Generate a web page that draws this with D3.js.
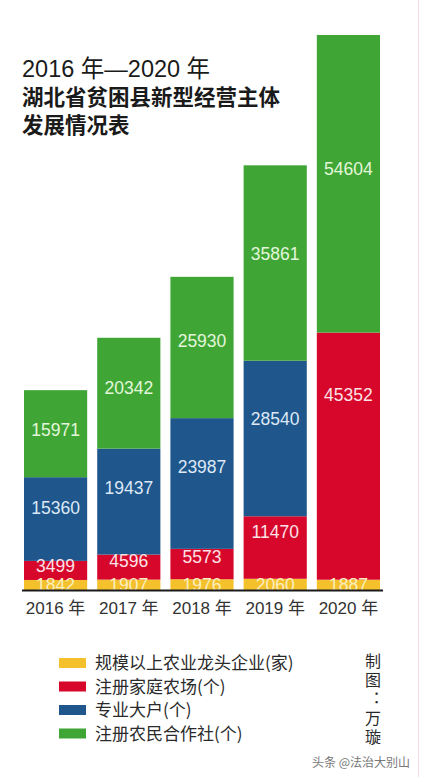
<!DOCTYPE html>
<html>
<head>
<meta charset="utf-8">
<script src="https://cdn.jsdelivr.net/npm/d3@7"></script>
<style>
  html, body { margin: 0; padding: 0; background: #fff; }
  svg { display: block; font-family: "Liberation Sans", "Noto Sans CJK SC", sans-serif; }
</style>
</head>
<body>
<svg id="chart" width="421" height="777"></svg>
<script>
// data
var years = ["2016 年", "2017 年", "2018 年", "2019 年", "2020 年"];
var seriesNames = ["规模以上农业龙头企业(家)", "注册家庭农场(个)", "专业大户(个)", "注册农民合作社(个)"];
var leading = [1842, 1907, 1976, 2060, 1887];
var familyFarms = [3499, 4596, 5573, 11470, 45352];
var bigHouseholds = [15360, 19437, 23987, 28540, 0];
var cooperatives = [15971, 20342, 25930, 35861, 54604];
var titleLines = ["2016 年—2020 年", "湖北省贫困县新型经营主体", "发展情况表"];

var colors = ["#f4c02c", "#d6072b", "#1f568c", "#3fa636"];
var labelColors = ["#fbefc0", "#fde2e6", "#dde9f6", "#e4f6da"];
// where the value label sits inside its segment (0 = top, 1 = bottom)
var labelFrac = [0.5, 0.25, 0.37, 0.45];

var svg = d3.select("#chart");

// title
svg.append("g").selectAll("text")
    .data(titleLines)
    .enter().append("text")
    .attr("x", 22)
    .attr("y", function (d, i) { return 77 + i * 28; })
    .attr("font-family", "'Liberation Sans', 'Noto Sans CJK SC', sans-serif")
    .attr("font-size", function (d, i) { return i === 0 ? 23.5 : 21.5; })
    .attr("font-weight", function (d, i) { return i === 0 ? 400 : 700; })
    .attr("fill", "#1a1a1a")
    .text(function (d) { return d; });

var rows = years.map(function (y, i) {
    return { year: y, s0: leading[i], s1: familyFarms[i], s2: bigHouseholds[i], s3: cooperatives[i] };
});
var keys = ["s0", "s1", "s2", "s3"];
var stacked = d3.stack().keys(keys)(rows);

var x = d3.scaleBand()
    .domain(years)
    .range([24, 380])
    .paddingInner(0.137)
    .paddingOuter(0);

var maxTotal = d3.max(rows, function (r) { return r.s0 + r.s1 + r.s2 + r.s3; });
var y = d3.scaleLinear()
    .domain([0, maxTotal])
    .range([590, 35]);

var layers = svg.append("g").selectAll("g")
    .data(stacked)
    .enter().append("g")
    .attr("fill", function (d, i) { return colors[i]; });

layers.selectAll("rect")
    .data(function (d) { return d.filter(function (p) { return p[1] > p[0]; }); })
    .enter().append("rect")
    .attr("x", function (d) { return x(d.data.year); })
    .attr("y", function (d) { return y(d[1]); })
    .attr("width", x.bandwidth())
    .attr("height", function (d) { return y(d[0]) - y(d[1]); });

// value labels
stacked.forEach(function (layer, li) {
    svg.append("g").selectAll("text")
        .data(layer.filter(function (p) { return p[1] > p[0]; }))
        .enter().append("text")
        .attr("x", function (d) { return x(d.data.year) + x.bandwidth() / 2; })
        .attr("y", function (d) {
            var top = y(d[1]), h = y(d[0]) - y(d[1]);
            return top + h * labelFrac[li];
        })
        .attr("dy", "0.36em")
        .attr("text-anchor", "middle")
        .attr("font-size", 17.5)
        .attr("fill", labelColors[li])
        .text(function (d) { return d[1] - d[0]; });
});

// baseline
svg.append("line")
    .attr("x1", 22).attr("x2", 383)
    .attr("y1", 590.5).attr("y2", 590.5)
    .attr("stroke", "#1a1a1a")
    .attr("stroke-width", 2);

// x axis labels
var xAxis = d3.axisBottom(x).tickSize(0).tickPadding(10);
var ax = svg.append("g").attr("transform", "translate(0,592)").call(xAxis);
ax.select(".domain").remove();
ax.selectAll("text")
    .attr("font-size", 17)
    .attr("font-family", "'Liberation Sans', 'Noto Sans CJK SC', sans-serif")
    .attr("fill", "#333");

// legend
var legend = svg.append("g").selectAll("g")
    .data(seriesNames)
    .enter().append("g")
    .attr("transform", function (d, i) { return "translate(59," + (663 + i * 23.5) + ")"; });
legend.append("rect")
    .attr("x", 0).attr("y", -5)
    .attr("width", 27).attr("height", 10)
    .attr("fill", function (d, i) { return colors[i]; });
legend.append("text")
    .attr("x", 36)
    .attr("dy", "0.36em")
    .attr("font-size", 17)
    .attr("font-family", "'Noto Sans CJK SC', sans-serif")
    .attr("fill", "#2a2a2a")
    .text(function (d) { return d; });

// credit, written top to bottom as one vertical text
svg.append("text")
    .attr("x", 373)
    .attr("y", 653)
    .style("writing-mode", "vertical-rl")
    .attr("letter-spacing", 3)
    .attr("font-size", 16)
    .attr("font-family", "'Noto Sans CJK SC', sans-serif")
    .attr("fill", "#2a2a2a")
    .text("制图：万璇");

svg.append("text")
    .attr("x", 410)
    .attr("y", 763)
    .attr("dy", "0.36em")
    .attr("text-anchor", "end")
    .attr("font-size", 12)
    .attr("font-family", "'Noto Sans CJK SC', sans-serif")
    .attr("fill", "#777")
    .text("头条 @法治大别山");

svg.append("line")
    .attr("x1", 418.5).attr("x2", 418.5)
    .attr("y1", 0).attr("y2", 777)
    .attr("stroke", "#f3dde2")
    .attr("stroke-width", 1);
</script>
</body>
</html>
